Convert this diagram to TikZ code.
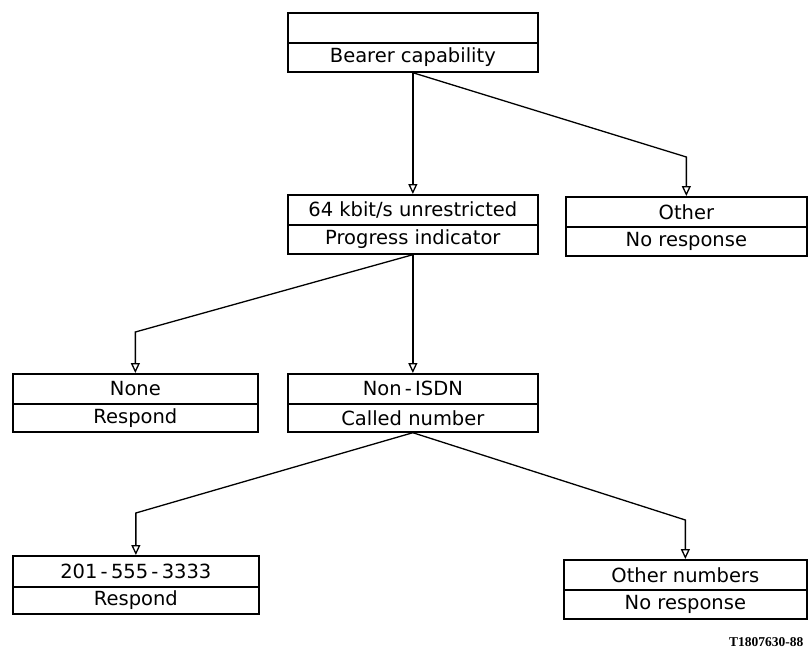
\documentclass[tikz,border=0pt]{standalone}
\usepackage{fontspec}
\setmainfont{DejaVu Sans}
\newfontfamily\labelfont{Liberation Serif}
\usetikzlibrary{arrows.meta}
\begin{document}
\begin{tikzpicture}[x=1pt,y=-1pt,
  cell/.style={draw,line width=1.7pt,rectangle,inner sep=0pt,anchor=north west,
    font=\fontsize{19.5}{21}\selectfont},
  conn/.style={line width=1.3pt,-{Triangle[open,length=10pt,width=9pt,line width=1.3pt]}}]
\useasboundingbox (0,0) rectangle (809,651);
% top box
\node[cell,minimum width=250pt,minimum height=30pt] (topA) at (287,12) {};
\node[cell,minimum width=250pt,minimum height=29pt] (topB) at (287,42) {Bearer capability};
% middle
\node[cell,minimum width=250pt,minimum height=30pt] (midA) at (287,194) {64 kbit/s unrestricted};
\node[cell,minimum width=250pt,minimum height=29pt] (midB) at (287,224) {Progress indicator};
% other
\node[cell,minimum width=241pt,minimum height=30pt] (othA) at (565,196) {Other};
\node[cell,minimum width=241pt,minimum height=29pt] (othB) at (565,226) {No response};
% none
\node[cell,minimum width=245pt,minimum height=30pt] (noneA) at (12,373) {None};
\node[cell,minimum width=245pt,minimum height=28pt] (noneB) at (12,403) {Respond};
% non-ISDN
\node[cell,minimum width=250pt,minimum height=30pt] (nonA) at (287,373) {Non\,-\,ISDN};
\node[cell,minimum width=250pt,minimum height=28pt] (nonB) at (287,403) {Called number};
% 201
\node[cell,minimum width=246pt,minimum height=31pt] (numA) at (12,555) {201\,-\,555\,-\,3333};
\node[cell,minimum width=246pt,minimum height=27pt] (numB) at (12,586) {Respond};
% other numbers
\node[cell,minimum width=243pt,minimum height=30pt] (onA) at (563,559) {Other numbers};
\node[cell,minimum width=243pt,minimum height=29pt] (onB) at (563,589) {No response};
% label
\node[font=\labelfont\fontsize{13.5}{15}\selectfont\bfseries,anchor=east] (tag) at (807,642) {T1807630-88};
% connectors
\draw[conn] (topB.south) -- (midA.north);
\draw[conn] (topB.south) -- (othA.north |- 0,157) -- (othA.north);
\draw[conn] (midB.south) -- (nonA.north);
\draw[conn] (midB.south) -- (noneA.north |- 0,332) -- (noneA.north);
\draw[conn] (nonB.south) -- (numA.north |- 0,513) -- (numA.north);
\draw[conn] (nonB.south) -- (onA.north |- 0,520) -- (onA.north);
\end{tikzpicture}
\end{document}
